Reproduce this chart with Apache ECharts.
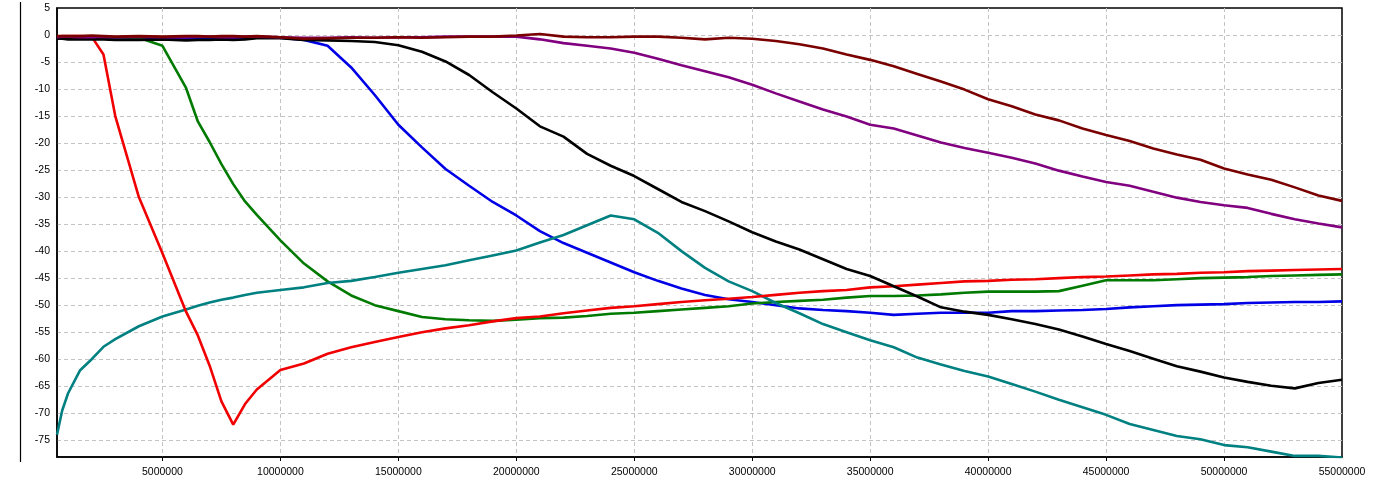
<!DOCTYPE html>
<html>
<head>
<meta charset="utf-8">
<script src="https://cdn.jsdelivr.net/npm/echarts@6/dist/echarts.min.js"></script>
<style>
html,body{margin:0;padding:0;background:#fff;}
#main{width:1379px;height:481px;}
</style>
</head>
<body>
<div id="main"></div>
<script>
// x positions (samples)
var xs = [530000, 750000, 1000000, 1500000, 2000000, 2500000, 3000000, 4000000, 5000000, 6000000, 6500000, 7000000, 7500000, 8000000, 8500000, 9000000,
	10000000, 11000000, 12000000, 13000000, 14000000, 15000000, 16000000, 17000000, 18000000, 19000000,
	20000000, 21000000, 22000000, 23000000, 24000000, 25000000, 26000000, 27000000, 28000000, 29000000,
	30000000, 31000000, 32000000, 33000000, 34000000, 35000000, 36000000, 37000000, 38000000, 39000000,
	40000000, 41000000, 42000000, 43000000, 44000000, 45000000, 46000000, 47000000, 48000000, 49000000,
	50000000, 51000000, 52000000, 53000000, 54000000, 55000000];

var redVals = [-0.3, -0.2, -0.2, -0.2, -0.3, -3.6, -15.0, -30.0, -40.4, -51.2, -55.6, -61.2, -67.8, -72.1, -68.3, -65.6,
	-62.0, -60.8, -59.0, -57.8, -56.8, -55.9, -55.0, -54.3, -53.7, -53.0,
	-52.4, -52.1, -51.5, -51.0, -50.5, -50.2, -49.8, -49.4, -49.1, -48.8,
	-48.5, -48.1, -47.7, -47.4, -47.2, -46.7, -46.5, -46.2, -45.9, -45.6,
	-45.5, -45.3, -45.2, -45.0, -44.8, -44.7, -44.5, -44.3, -44.2, -44.0,
	-43.9, -43.7, -43.6, -43.5, -43.4, -43.3];
var greenVals = [-0.5, -0.4, -0.4, -0.4, -0.3, -0.4, -0.4, -0.5, -2.0, -9.8, -16.0, -19.8, -23.9, -27.6, -30.8, -33.3,
	-38.0, -42.3, -45.6, -48.2, -50.0, -51.1, -52.2, -52.6, -52.8, -52.9,
	-52.7, -52.4, -52.3, -52.0, -51.6, -51.4, -51.1, -50.8, -50.5, -50.2,
	-49.7, -49.4, -49.2, -49.0, -48.6, -48.3, -48.3, -48.2, -48.0, -47.7,
	-47.5, -47.5, -47.5, -47.4, -46.4, -45.4, -45.4, -45.4, -45.2, -45.0,
	-44.9, -44.8, -44.6, -44.5, -44.4, -44.3];
var tealVals = [-74.0, -69.5, -66.3, -62.1, -60.0, -57.7, -56.3, -53.9, -52.1, -50.8, -50.1, -49.5, -49.0, -48.6, -48.1, -47.7,
	-47.2, -46.7, -45.9, -45.5, -44.8, -44.0, -43.3, -42.6, -41.7, -40.8,
	-39.9, -38.4, -37.0, -35.2, -33.4, -34.1, -36.6, -40.0, -43.1, -45.6,
	-47.4, -49.6, -51.5, -53.5, -55.0, -56.5, -57.8, -59.7, -61.0, -62.2,
	-63.2, -64.6, -66.0, -67.5, -68.9, -70.3, -72.0, -73.1, -74.2, -74.8,
	-75.9, -76.3, -77.1, -77.9, -77.9, -78.2];
var blueVals = [-0.7, -0.6, -0.6, -0.6, -0.5, -0.6, -0.7, -0.8, -0.7, -0.6, -0.6, -0.7, -0.7, -0.6, -0.6, -0.5,
	-0.5, -0.9, -2.0, -6.0, -11.1, -16.6, -20.8, -24.8, -27.9, -30.9,
	-33.4, -36.3, -38.5, -40.3, -42.1, -43.9, -45.5, -46.9, -48.1, -48.9,
	-49.4, -50.0, -50.6, -50.9, -51.1, -51.4, -51.8, -51.6, -51.4, -51.4,
	-51.4, -51.1, -51.1, -51.0, -50.9, -50.7, -50.4, -50.2, -50.0, -49.9,
	-49.8, -49.6, -49.5, -49.4, -49.4, -49.3];
var blackVals = [-0.7, -0.7, -0.8, -0.8, -0.8, -0.8, -0.9, -0.9, -0.8, -1.0, -0.9, -0.9, -0.8, -0.9, -0.8, -0.6,
	-0.6, -0.9, -1.0, -1.1, -1.3, -1.9, -3.1, -4.9, -7.4, -10.6,
	-13.6, -16.9, -18.8, -22.0, -24.2, -26.1, -28.5, -30.9, -32.6, -34.5,
	-36.5, -38.2, -39.7, -41.5, -43.3, -44.6, -46.5, -48.4, -50.4, -51.2,
	-51.8, -52.6, -53.5, -54.5, -55.8, -57.2, -58.5, -59.9, -61.3, -62.3,
	-63.4, -64.2, -64.9, -65.4, -64.4, -63.8];
var purpleVals = [-0.4, -0.3, -0.3, -0.4, -0.4, -0.3, -0.4, -0.3, -0.4, -0.4, -0.3, -0.3, -0.4, -0.4, -0.3, -0.3,
	-0.4, -0.5, -0.5, -0.4, -0.5, -0.4, -0.4, -0.3, -0.3, -0.3,
	-0.3, -0.8, -1.5, -2.0, -2.5, -3.3, -4.4, -5.6, -6.7, -7.8,
	-9.2, -10.8, -12.3, -13.8, -15.1, -16.6, -17.3, -18.6, -19.9, -20.9,
	-21.8, -22.7, -23.8, -25.1, -26.2, -27.2, -27.9, -29.0, -30.1, -30.9,
	-31.5, -32.0, -33.1, -34.1, -34.9, -35.6];
var maroonVals = [-0.2, -0.2, -0.2, -0.2, -0.1, -0.2, -0.3, -0.2, -0.3, -0.2, -0.2, -0.3, -0.2, -0.2, -0.3, -0.2,
	-0.4, -0.7, -0.6, -0.5, -0.5, -0.4, -0.5, -0.4, -0.3, -0.3,
	-0.1, 0.2, -0.3, -0.4, -0.4, -0.3, -0.3, -0.5, -0.8, -0.5,
	-0.7, -1.1, -1.7, -2.5, -3.6, -4.6, -5.8, -7.2, -8.6, -10.1,
	-11.9, -13.2, -14.7, -15.8, -17.3, -18.5, -19.6, -21.0, -22.1, -23.1,
	-24.7, -25.8, -26.8, -28.2, -29.7, -30.7];

// tick labels
var xTicks = [5000000, 10000000, 15000000, 20000000, 25000000, 30000000, 35000000, 40000000, 45000000, 50000000, 55000000];
var yTicks = [5, 0, -5, -10, -15, -20, -25, -30, -35, -40, -45, -50, -55, -60, -65, -70, -75];

function pairs(vals){
	var out = [];
	for(var i=0;i<xs.length;i++){
		out.push([xs[i], vals[i]]);
	}
	return out;
}

function line(vals, color){
	return {
		type:'line',
		data:pairs(vals),
		showSymbol:false,
		smooth:false,
		lineStyle:{color:color, width:2.6},
		itemStyle:{color:color}
	};
}

var chart = echarts.init(document.getElementById('main'));
var font = 'Liberation Sans';
// grid lines only inside the frame (the frame itself is solid)
var xGridTicks = xTicks.slice(0, xTicks.length - 1);
var yGridTicks = yTicks.slice(1);
var option = {
	animation:false,
	backgroundColor:'#fff',
	grid:{
		left:57, right:37, top:8, bottom:24,
		show:true, borderColor:'#000', borderWidth:1.5
	},
	xAxis:{
		type:'value',
		min:530000,
		max:55000000,
		axisLine:{show:true, onZero:false, lineStyle:{color:'#000', width:1.5}},
		axisTick:{show:true, length:4, customValues:xGridTicks, lineStyle:{color:'#000'}},
		axisLabel:{
			customValues:xTicks, color:'#000', fontFamily:font, fontSize:10.5, margin:10,
			formatter:function(v){ return String(v); }
		},
		splitLine:{show:true, lineStyle:{color:'#c4c4c4', type:[4,3], width:1}}
	},
	yAxis:{
		type:'value',
		min:-78.1,
		max:5,
		axisLine:{show:true, onZero:false, lineStyle:{color:'#000', width:1.5}},
		axisTick:{show:false, customValues:yGridTicks},
		axisLabel:{
			customValues:yTicks, color:'#000', fontFamily:font, fontSize:10.5, margin:7,
			formatter:function(v){ return String(v); }
		},
		splitLine:{show:true, lineStyle:{color:'#c4c4c4', type:[4,3], width:1}}
	},
	graphic:[{
		type:'line',
		shape:{x1:20.5, y1:2, x2:20.5, y2:462},
		style:{stroke:'#000', lineWidth:1.2}
	}],
	series:[
		line(blueVals, '#0000e6'),
		line(greenVals, '#007a00'),
		line(tealVals, '#008080'),
		line(redVals, '#f00000'),
		line(blackVals, '#000000'),
		line(purpleVals, '#800080'),
		line(maroonVals, '#7a0000')
	]
};
chart.setOption(option);
</script>
</body>
</html>
